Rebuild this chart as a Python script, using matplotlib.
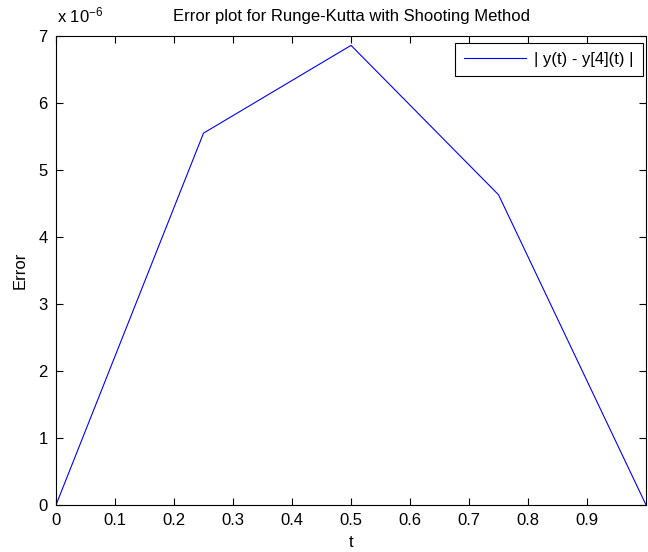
import matplotlib
matplotlib.use('Agg')
import matplotlib.pyplot as plt
import numpy as np

# data
t = [0.0, 0.25, 0.5, 0.75, 1.0]
err = [0.0, 5.55e-6, 6.86e-6, 4.63e-6, 0.0]
xticks = [0, 0.1, 0.2, 0.3, 0.4, 0.5, 0.6, 0.7, 0.8, 0.9]
yticks = [0, 1, 2, 3, 4, 5, 6, 7]

plt.rcParams['font.family'] = ['Liberation Sans', 'DejaVu Sans']
plt.rcParams['mathtext.fontset'] = 'custom'
plt.rcParams['mathtext.rm'] = 'Liberation Sans'
plt.rcParams['mathtext.it'] = 'Liberation Sans'

fig = plt.figure(figsize=(6.48, 5.52), dpi=100)
ax = fig.add_axes([0.0864, 0.0851, 0.9106, 0.8497])

ax.plot(t, np.array(err) / 1e-6, color='#0000ff', lw=0.8, label='| y(t) - y[4](t) |')

ax.set_xlim(0, 1)
ax.set_ylim(0, 7)
ax.set_xticks(xticks)
ax.set_xticklabels(['0'] + [f'{v:.1f}' for v in xticks[1:]])
ax.set_yticks(yticks)
ax.tick_params(direction='in', top=True, right=True, length=5, labelsize=12, pad=6)
for s in ax.spines.values():
    s.set_linewidth(0.8)

ax.set_xlabel('t', fontsize=12, labelpad=5)
ax.set_ylabel('Error', fontsize=12, labelpad=8)
ax.set_title('Error plot for Runge-Kutta with Shooting Method', fontsize=12, pad=11)
ax.text(0.001, 1.022, r'x $\mathregular{10^{-6}}$', transform=ax.transAxes, fontsize=12,
        ha='left', va='bottom')

leg = ax.legend(loc='upper right', bbox_to_anchor=(0.995, 0.985), borderaxespad=0,
                fontsize=12, fancybox=False, framealpha=1, edgecolor='black',
                handlelength=3.7, borderpad=0.55, handletextpad=0.5)
leg.get_frame().set_linewidth(0.8)

plt.savefig('out.png', dpi=100)
